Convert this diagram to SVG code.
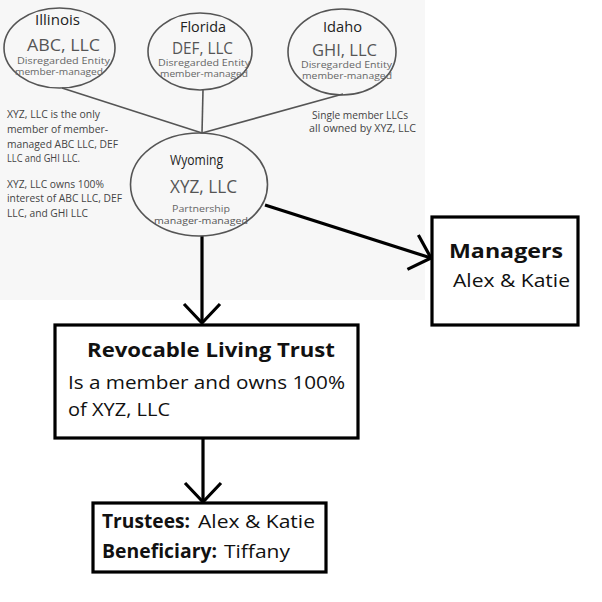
<svg xmlns="http://www.w3.org/2000/svg" width="602" height="602" viewBox="0 0 602 602">
<style>
.ell{fill:none;stroke:#555;stroke-width:1.6}
.thin{fill:none;stroke:#555;stroke-width:1.6}
.thick{fill:none;stroke:#000;stroke-width:3.2}
.box{fill:#fff;stroke:#000;stroke-width:3.2}
.t{font-family:"Open Sans","Noto Sans",sans-serif}
.st{fill:#222;font-size:14px}
.nm{fill:#555;font-size:15.5px}
.sm{fill:#666;font-size:9.5px}
.ann{fill:#444;font-size:10.5px}
.bx{fill:#111;font-size:19px}
.b{font-weight:bold}
</style>
<defs>
<marker id="arr" markerUnits="userSpaceOnUse" viewBox="-22 -20 24 40" refX="0" refY="0" markerWidth="24" markerHeight="40" orient="auto" overflow="visible">
<path d="M-19,-18 L0,0 L-19,18" fill="none" stroke="#000" stroke-width="3.2"/>
</marker>
</defs>
<rect x="0" y="0" width="602" height="602" fill="#fff"/>
<rect x="0" y="0" width="425" height="300" fill="#f7f7f7"/>

<g id="connectors">
<line class="thin" x1="62" y1="88" x2="202" y2="133"/>
<line class="thin" x1="203" y1="90" x2="202" y2="133"/>
<line class="thin" x1="343" y1="94" x2="202" y2="133"/>
<line class="thick" x1="265" y1="205" x2="431" y2="258" marker-end="url(#arr)"/>
<line class="thick" x1="202" y1="236" x2="202" y2="323" marker-end="url(#arr)"/>
<line class="thick" x1="203" y1="439" x2="203" y2="502" marker-end="url(#arr)"/>
</g>

<g id="illinois">
<ellipse class="ell" cx="59.5" cy="48" rx="55.5" ry="40"/>
<text class="t st" x="57.5" y="25" text-anchor="middle" textLength="45" lengthAdjust="spacingAndGlyphs">Illinois</text>
<text class="t nm" x="63.5" y="51" text-anchor="middle" textLength="73" lengthAdjust="spacingAndGlyphs">ABC, LLC</text>
<text class="t sm" x="63.5" y="63.5" text-anchor="middle" textLength="93" lengthAdjust="spacingAndGlyphs">Disregarded Entity</text>
<text class="t sm" x="59" y="75" text-anchor="middle" textLength="88" lengthAdjust="spacingAndGlyphs">member-managed</text>
</g>

<g id="florida">
<ellipse class="ell" cx="200" cy="51.5" rx="52" ry="38.5"/>
<text class="t st" x="203" y="32" text-anchor="middle" textLength="46" lengthAdjust="spacingAndGlyphs">Florida</text>
<text class="t nm" x="202.5" y="54" text-anchor="middle" textLength="61" lengthAdjust="spacingAndGlyphs">DEF, LLC</text>
<text class="t sm" x="204" y="66" text-anchor="middle" textLength="92" lengthAdjust="spacingAndGlyphs">Disregarded Entity</text>
<text class="t sm" x="204" y="77" text-anchor="middle" textLength="88" lengthAdjust="spacingAndGlyphs">member-managed</text>
</g>

<g id="idaho">
<ellipse class="ell" cx="342" cy="52" rx="54" ry="43"/>
<text class="t st" x="342.5" y="32" text-anchor="middle" textLength="39" lengthAdjust="spacingAndGlyphs">Idaho</text>
<text class="t nm" x="344.5" y="55.5" text-anchor="middle" textLength="65" lengthAdjust="spacingAndGlyphs">GHI, LLC</text>
<text class="t sm" x="346.5" y="67.5" text-anchor="middle" textLength="91" lengthAdjust="spacingAndGlyphs">Disregarded Entity</text>
<text class="t sm" x="347" y="78.5" text-anchor="middle" textLength="90" lengthAdjust="spacingAndGlyphs">member-managed</text>
</g>

<g id="wyoming">
<ellipse class="ell" cx="199" cy="184.5" rx="68.5" ry="51.5"/>
<text class="t" x="196.5" y="165" text-anchor="middle" font-size="15" fill="#222" textLength="53" lengthAdjust="spacingAndGlyphs">Wyoming</text>
<text class="t" x="203.5" y="193" text-anchor="middle" font-size="19" fill="#555" textLength="67" lengthAdjust="spacingAndGlyphs">XYZ, LLC</text>
<text class="t" x="201" y="212" text-anchor="middle" font-size="9.5" fill="#666" textLength="58" lengthAdjust="spacingAndGlyphs">Partnership</text>
<text class="t" x="201" y="223.5" text-anchor="middle" font-size="9.5" fill="#555" textLength="94" lengthAdjust="spacingAndGlyphs">manager-managed</text>
</g>

<g id="note-left">
<text class="t ann" x="7" y="118" textLength="93" lengthAdjust="spacingAndGlyphs">XYZ, LLC is the only</text>
<text class="t ann" x="7" y="133" textLength="101" lengthAdjust="spacingAndGlyphs">member of member-</text>
<text class="t ann" x="7" y="148" textLength="111" lengthAdjust="spacingAndGlyphs">managed ABC LLC, DEF</text>
<text class="t ann" x="7" y="162" textLength="73" lengthAdjust="spacingAndGlyphs">LLC and GHI LLC.</text>
<text class="t ann" x="7" y="188" textLength="97" lengthAdjust="spacingAndGlyphs">XYZ, LLC owns 100%</text>
<text class="t ann" x="7" y="202" textLength="115" lengthAdjust="spacingAndGlyphs">interest of ABC LLC, DEF</text>
<text class="t ann" x="7" y="217" textLength="81" lengthAdjust="spacingAndGlyphs">LLC, and GHI LLC</text>
</g>

<g id="note-right">
<text class="t ann" x="312" y="119" font-size="10" textLength="96" lengthAdjust="spacingAndGlyphs">Single member LLCs</text>
<text class="t ann" x="309" y="132" font-size="10" textLength="107" lengthAdjust="spacingAndGlyphs">all owned by XYZ, LLC</text>
</g>

<g id="managers">
<rect class="box" x="432" y="217" width="146" height="108"/>
<text class="t bx b" x="506" y="258" text-anchor="middle" textLength="114" lengthAdjust="spacingAndGlyphs">Managers</text>
<text class="t bx" x="511.5" y="287" text-anchor="middle" textLength="117" lengthAdjust="spacingAndGlyphs">Alex &amp; Katie</text>
</g>

<g id="trust">
<rect class="box" x="55" y="325" width="303" height="113"/>
<text class="t bx b" x="211" y="357" text-anchor="middle" font-size="20" textLength="248" lengthAdjust="spacingAndGlyphs">Revocable Living Trust</text>
<text class="t bx" x="68" y="389" font-size="20" textLength="277" lengthAdjust="spacingAndGlyphs">Is a member and owns 100%</text>
<text class="t bx" x="68" y="416" font-size="20" textLength="102" lengthAdjust="spacingAndGlyphs">of XYZ, LLC</text>
</g>

<g id="trustees">
<rect class="box" x="93" y="503" width="233" height="69"/>
<text class="t bx b" x="102" y="528" textLength="88" lengthAdjust="spacingAndGlyphs">Trustees:</text>
<text class="t bx" x="198" y="528" textLength="117" lengthAdjust="spacingAndGlyphs">Alex &amp; Katie</text>
<text class="t bx b" x="102" y="558" textLength="115" lengthAdjust="spacingAndGlyphs">Beneficiary:</text>
<text class="t bx" x="224" y="558" textLength="66" lengthAdjust="spacingAndGlyphs">Tiffany</text>
</g>
</svg>
